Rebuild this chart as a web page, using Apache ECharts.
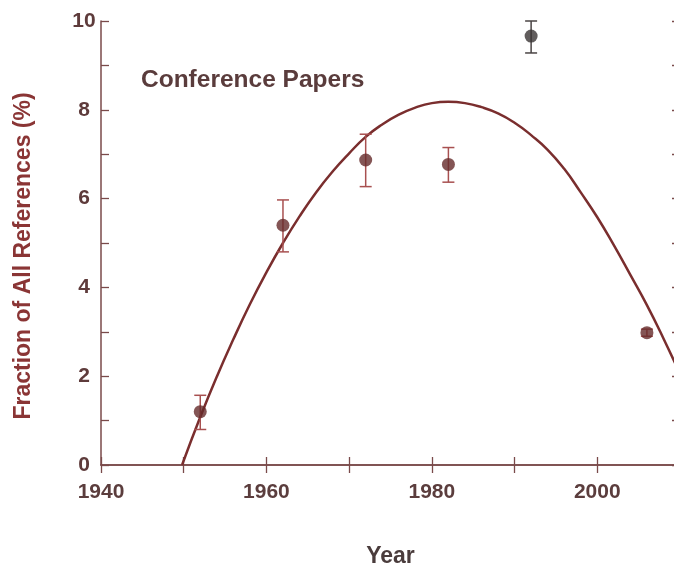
<!DOCTYPE html>
<html>
<head>
<meta charset="utf-8">
<script src="https://cdn.jsdelivr.net/npm/echarts@6/dist/echarts.min.js"></script>
<style>
html,body{margin:0;padding:0;background:#fff;}
#c{width:674px;height:573px;}
</style>
</head>
<body>
<div id="c"></div>
<script>
// Data
var years = [1952, 1962, 1972, 1982, 1992, 2006];
var fraction = [1.2, 5.4, 6.87, 6.77, 9.66, 2.98];
var errLow = [0.8, 4.8, 6.27, 6.37, 9.28, 2.9];
var errHigh = [1.57, 5.97, 7.45, 7.15, 10.0, 3.06];
var curveYears = [1949.8, 1952, 1954, 1956, 1958, 1960, 1962, 1964, 1966, 1968, 1970, 1972, 1974, 1976, 1978, 1980, 1982, 1984, 1986, 1988, 1990, 1992, 1994, 1996, 1998, 2000, 2002, 2004, 2006, 2008, 2010];
var curveVals = [0, 1.08, 1.99, 2.83, 3.62, 4.34, 5.0, 5.6, 6.14, 6.61, 7.02, 7.39, 7.67, 7.89, 8.05, 8.15, 8.18, 8.15, 8.06, 7.92, 7.71, 7.43, 7.1, 6.67, 6.14, 5.58, 4.95, 4.28, 3.6, 2.85, 2.05];
var xTickLabels = [1940, 1960, 1980, 2000];
var yTickLabels = [0, 2, 4, 6, 8, 10];
var chartLabel = 'Conference Papers';

var axisCol = '#7a4a4a';
var labelCol = '#5b3d3d';
var font = 'Liberation Sans, Arial, Helvetica, sans-serif';

var pts = years.map(function (y, i) { return [y, fraction[i]]; });
var errData = years.map(function (y, i) { return [y, errLow[i], errHigh[i], i]; });
var curve = curveYears.map(function (y, i) { return [y, curveVals[i]]; });

var chart = echarts.init(document.getElementById('c'), null, {renderer: 'canvas'});
var baseX = {
  type: 'value', min: 1940, max: 2010, interval: 10,
  axisLine: {show: true, lineStyle: {color: axisCol, width: 1.5}},
  axisTick: {show: true, inside: true, length: 8, lineStyle: {color: axisCol, width: 1.3}},
  splitLine: {show: false}
};
var baseY = {
  type: 'value', min: 0, max: 10, interval: 1,
  axisLine: {show: true, lineStyle: {color: axisCol, width: 1.5}},
  axisTick: {show: true, inside: true, length: 8, lineStyle: {color: axisCol, width: 1.3}},
  splitLine: {show: false}
};
chart.setOption({
  backgroundColor: '#ffffff',
  animation: false,
  title: {
    text: chartLabel, left: 136, top: 63,
    textStyle: {fontFamily: font, fontSize: 24.5, fontWeight: 'bold', color: '#5a3c3c'}
  },
  grid: {left: 101, top: 21, width: 579, height: 444, containLabel: false, outerBoundsMode: 'none'},
  xAxis: [
    Object.assign({}, baseX, {
      position: 'bottom',
      name: 'Year', nameLocation: 'middle', nameGap: 80,
      nameTextStyle: {fontFamily: font, fontSize: 23, fontWeight: 'bold', color: '#4a3c3c'},
      axisLabel: {
        show: true, margin: 17, fontFamily: font, fontSize: 21, fontWeight: 'bold', color: labelCol,
        formatter: function (v) { return xTickLabels.indexOf(v) >= 0 ? String(v) : ''; }
      }
    }),
    Object.assign({}, baseX, {position: 'top', axisLabel: {show: false}})
  ],
  yAxis: [
    Object.assign({}, baseY, {
      position: 'left',
      name: 'Fraction of All References (%)', nameLocation: 'middle', nameGap: 66,
      nameTextStyle: {fontFamily: font, fontSize: 23, fontWeight: 'bold', color: '#8a3535', padding: [0, 26, 0, 0]},
      axisLabel: {
        show: true, margin: 17, align: 'center', fontFamily: font, fontSize: 21, fontWeight: 'bold', color: '#5e3b3b',
        padding: [0, 0, 6, 0],
        formatter: function (v) { return yTickLabels.indexOf(v) >= 0 ? String(v) : ''; }
      }
    }),
    Object.assign({}, baseY, {position: 'right', axisLabel: {show: false}})
  ],
  series: [
    {
      type: 'line', data: curve, smooth: true, showSymbol: false, symbol: 'none',
      lineStyle: {color: '#7a2e2e', width: 2.5}, z: 3, clip: true
    },
    {
      type: 'custom', data: errData, z: 4,
      renderItem: function (params, api) {
        var x = api.value(0);
        var lo = api.coord([x, api.value(1)]);
        var hi = api.coord([x, api.value(2)]);
        var idx = api.value(3);
        var col = idx === 4 ? '#4a4444' : '#a85050';
        var hw = 6;
        var st = {stroke: col, lineWidth: 1.5, fill: null};
        return {
          type: 'group',
          children: [
            {type: 'line', shape: {x1: lo[0], y1: lo[1], x2: hi[0], y2: hi[1]}, style: st},
            {type: 'line', shape: {x1: lo[0] - hw, y1: lo[1], x2: lo[0] + hw, y2: lo[1]}, style: st},
            {type: 'line', shape: {x1: hi[0] - hw, y1: hi[1], x2: hi[0] + hw, y2: hi[1]}, style: st}
          ]
        };
      }
    },
    {
      type: 'scatter', data: pts, symbol: 'circle', symbolSize: 13, z: 5,
      itemStyle: {
        color: function (p) { return p.dataIndex === 4 ? '#3a3434' : '#652a2a'; }
      }
    }
  ]
});
</script>
</body>
</html>
